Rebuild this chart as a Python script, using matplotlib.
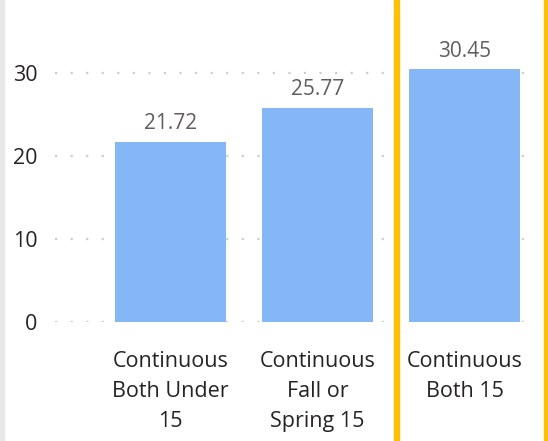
import matplotlib.pyplot as plt
from matplotlib.patches import Rectangle

categories = ["Continuous\nBoth Under\n15", "Continuous\nFall or\nSpring 15", "Continuous\nBoth 15"]
values = [21.72, 25.77, 30.45]
yticks = [0, 10, 20, 30]

plt.rcParams['font.family'] = ['Open Sans', 'DejaVu Sans']

W, H = 548, 441
fig = plt.figure(figsize=(W / 100, H / 100), dpi=100)

# axes spans the dotted gridlines: x 55..530 px, y 0 at 322 px
x0, x1 = 55, 530
y_zero, px_per_unit = 322, 8.3
y_top = 10
ymax = (y_zero - y_top) / px_per_unit
ax = fig.add_axes([x0 / W, (H - y_zero) / H, (x1 - x0) / W, (y_zero - y_top) / H])

step = 147.0
c0 = 170.5
ax.set_xlim((x0 - c0) / step, (x1 - c0) / step)
ax.set_ylim(0, ymax)

xs = list(range(len(categories)))
ax.bar(xs, values, width=111 / step, color='#85B7F7', zorder=2)

for x, v in zip(xs, values):
    ax.annotate(f"{v:.2f}", (x, v), xytext=(0, 5.5), textcoords='offset points',
                ha='center', va='bottom', fontsize=15, color='#605E5C')

ax.set_yticks(yticks)
ax.set_yticklabels([str(t) for t in yticks], fontsize=15.5, color='#252423')
ax.set_xticks(xs)
ax.set_xticklabels(categories, fontsize=15.5, color='#252423', linespacing=1.57)
ax.tick_params(axis='both', length=0)
ax.tick_params(axis='y', pad=12.5)
ax.tick_params(axis='x', pad=21)
for sp in ax.spines.values():
    sp.set_visible(False)
ax.grid(axis='y', color='#CDCDCD', linestyle=(0, (1, 6)), linewidth=1.6, zorder=0)

# left gray border and yellow highlight box
fig.add_artist(Rectangle((0, 0), 4 / W, 1, transform=fig.transFigure, color='#E8E8E8'))
fig.add_artist(Rectangle((394 / W, 0), 5 / W, 1, transform=fig.transFigure, color='#FDC002'))
fig.add_artist(Rectangle((544 / W, 0), 4 / W, 1, transform=fig.transFigure, color='#FDC002'))

fig.savefig('out.png', dpi=100)
